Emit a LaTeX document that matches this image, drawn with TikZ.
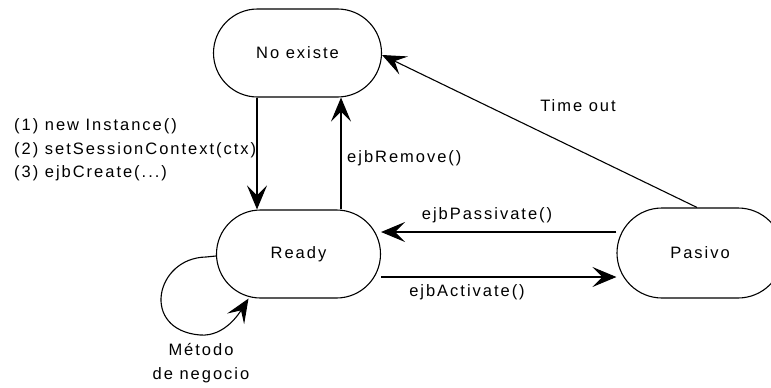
\documentclass[tikz,border=0pt]{standalone}
\usepackage{fontspec}
\newfontfamily\lblfont[LetterSpace=12]{Liberation Sans}
\usetikzlibrary{shapes.misc,arrows.meta}
\tikzset{
  state/.style={rounded rectangle, draw, line width=1.1pt, inner sep=0pt,
    minimum width=168pt, minimum height=88pt, font=\lblfont\fontsize{16.5}{20}\selectfont},
  lbl/.style={inner sep=0pt, font=\lblfont\fontsize{16.5}{20}\selectfont},
  arr/.style={line width=1.1pt, -{Stealth[length=24pt,width=20pt,inset=10pt]}}
}
\begin{document}
\begin{tikzpicture}[x=1pt,y=-1pt]
\useasboundingbox (0,0) rectangle (771,388);
\node[state] (noexiste) at (297.5,53) {No existe};
\node[state, minimum width=164pt] (ready) at (298.5,254) {Ready};
\node[state, minimum width=166pt, minimum height=90pt] (pasivo) at (700,253) {Pasivo};

\draw[arr] ([xshift=-40.5pt]noexiste.south) -- ([xshift=-41.5pt]ready.north);
\draw[arr] ([xshift=42.5pt]ready.north) -- ([xshift=43.5pt]noexiste.south);
\draw[arr] ([xshift=-3pt]pasivo.north) -- ([yshift=-2pt]noexiste.east);
\draw[arr] ([yshift=21pt]pasivo.west) -- ([yshift=22pt]ready.east);
\draw[arr] ([yshift=-23pt]ready.east) -- ([yshift=-24pt]pasivo.west);
\draw[arr] ([yshift=-2pt]ready.west) -- ++(-10,1)
  .. controls (155,258) and (140,330) .. (200,335)
  .. controls (225,337) and (240,312) .. ([xshift=-50pt]ready.south);

\node[lbl, anchor=west] (l1) at (14,126) {(1) new Instance()};
\node[lbl, anchor=west] (l2) at (14,150) {(2) setSessionContext(ctx)};
\node[lbl, anchor=west] (l3) at (14,173) {(3) ejbCreate(...)};
\node[lbl, anchor=west] (remove) at (347,158) {ejbRemove()};
\node[lbl] (timeout) at (578,106) {Time out};
\node[lbl] (passivate) at (487,215) {ejbPassivate()};
\node[lbl] (activate) at (467,292) {ejbActivate()};
\node[lbl] (metodo) at (201,350) {Método};
\node[lbl] (negocio) at (201,375) {de negocio};
\end{tikzpicture}
\end{document}
